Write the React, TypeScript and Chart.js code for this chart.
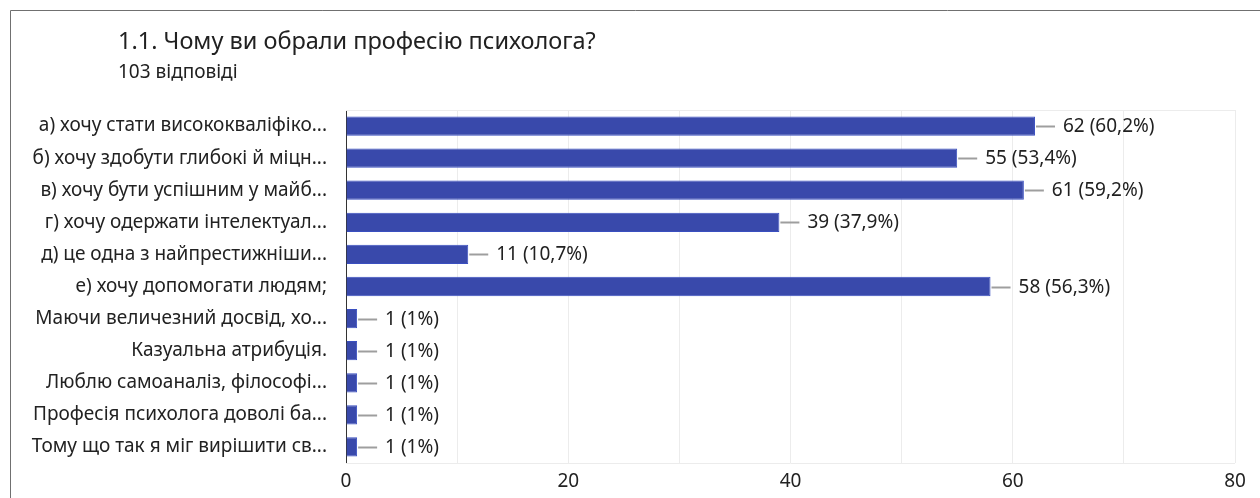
import React, { useEffect, useRef } from "react";
import { Chart, registerables } from "chart.js";

Chart.register(...registerables);

const TITLE = "1.1. Чому ви обрали професію психолога?";
const SUBTITLE = "103 відповіді";

const categories = [
  "а) хочу стати висококваліфіко...",
  "б) хочу здобути глибокі й міцн...",
  "в) хочу бути успішним у майб...",
  "г) хочу одержати інтелектуал...",
  "д) це одна з найпрестижніши...",
  "е) хочу допомогати людям;",
  "Маючи величезний досвід, хо...",
  "Казуальна атрибуція.",
  "Люблю самоаналіз, філософі...",
  "Професія психолога доволі ба...",
  "Тому що так я міг вирішити св...",
];

const counts = [62, 55, 61, 39, 11, 58, 1, 1, 1, 1, 1];
const percents = ["60,2%", "53,4%", "59,2%", "37,9%", "10,7%", "56,3%", "1%", "1%", "1%", "1%", "1%"];
const xTicks = [0, 20, 40, 60, 80];

const FONT = "'Noto Sans', 'Open Sans', sans-serif";

const overlay = {
  id: "overlay",
  afterDraw(chart: any) {
    const ctx = chart.ctx;
    ctx.save();
    // outer frame
    ctx.strokeStyle = "#707070";
    ctx.lineWidth = 1;
    ctx.beginPath();
    ctx.moveTo(1260, 10.5);
    ctx.lineTo(10.5, 10.5);
    ctx.lineTo(10.5, 498);
    ctx.stroke();
    // title
    ctx.fillStyle = "#212121";
    ctx.textBaseline = "alphabetic";
    ctx.textAlign = "left";
    ctx.font = `23.5px ${FONT}`;
    ctx.fillText(TITLE, 118, 49);
    ctx.font = `19px ${FONT}`;
    ctx.fillText(SUBTITLE, 118, 78);
    // value labels with leader lines
    const meta = chart.getDatasetMeta(0);
    meta.data.forEach((bar: any, i: number) => {
      const x = bar.x;
      const y = Math.round(bar.y) + 0.5;
      ctx.strokeStyle = "#9e9e9e";
      ctx.lineWidth = 2;
      ctx.beginPath();
      ctx.moveTo(x + 1, y);
      ctx.lineTo(x + 20, y);
      ctx.stroke();
      ctx.fillStyle = "#212121";
      ctx.font = `19px ${FONT}`;
      ctx.textBaseline = "middle";
      ctx.textAlign = "left";
      ctx.fillText(`${counts[i]} (${percents[i]})`, x + 28, y);
    });
    ctx.restore();
  },
};

export default function App() {
  const ref = useRef<HTMLCanvasElement>(null);
  useEffect(() => {
    document.body.style.margin = "0";
    const chart = new Chart(ref.current!, {
      type: "bar",
      data: {
        labels: categories,
        datasets: [
          {
            data: counts,
            backgroundColor: "#3949ab",
            borderColor: "#3a4fc0",
            borderWidth: 1,
            categoryPercentage: 1,
            barPercentage: 0.6,
          },
        ],
      },
      options: {
        indexAxis: "y",
        responsive: false,
        animation: false,
        layout: { padding: { left: 10, right: 25, top: 110, bottom: 0 } },
        plugins: { legend: { display: false }, tooltip: { enabled: false } },
        scales: {
          x: {
            min: 0,
            max: 80,
            afterFit(scale: any) {
              scale.height = 35;
            },
            afterBuildTicks(scale: any) {
              const t = [];
              for (let v = 0; v <= 80; v += 10) t.push({ value: v });
              scale.ticks = t;
            },
            ticks: {
              callback: (v: any) => (xTicks.includes(Number(v)) ? String(v) : ""),
              color: "#222",
              font: { family: FONT, size: 19 },
              padding: 7,
              maxRotation: 0,
              autoSkip: false,
            },
            grid: { color: "#ececec", drawTicks: false, lineWidth: 1 },
            border: { display: false },
          },
          y: {
            afterFit(scale: any) {
              scale.width = 336;
            },
            ticks: {
              color: "#222",
              font: { family: FONT, size: 19 },
              padding: 19,
              autoSkip: false,
            },
            grid: { display: false, drawTicks: false },
            border: { display: true, color: "#333", width: 1 },
          },
        },
      },
      plugins: [
        {
          id: "frameLines",
          beforeDatasetsDraw(chart: any) {
            const { ctx, chartArea } = chart;
            ctx.save();
            ctx.strokeStyle = "#ececec";
            ctx.lineWidth = 1;
            ctx.beginPath();
            ctx.moveTo(chartArea.left, Math.round(chartArea.top) + 0.5);
            ctx.lineTo(chartArea.right, Math.round(chartArea.top) + 0.5);
            ctx.moveTo(chartArea.left, Math.round(chartArea.bottom) + 0.5);
            ctx.lineTo(chartArea.right, Math.round(chartArea.bottom) + 0.5);
            ctx.stroke();
            ctx.restore();
          },
        },
        overlay,
      ],
    } as any);
    return () => chart.destroy();
  }, []);
  return (
    <div style={{ position: "fixed", left: 0, top: 0, width: 1260, height: 498, background: "#fff" }}>
      <canvas ref={ref} width={1260} height={498} style={{ display: "block" }} />
    </div>
  );
}
